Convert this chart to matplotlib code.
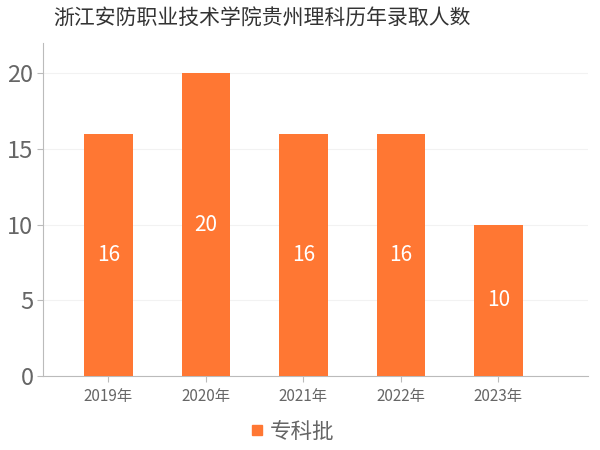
import matplotlib.pyplot as plt
from matplotlib.lines import Line2D

plt.rcParams['font.family'] = ['Noto Sans CJK SC', 'DejaVu Sans']

years = ["2019年", "2020年", "2021年", "2022年", "2023年"]
counts = [16, 20, 16, 16, 10]
series_name = "专科批"
title = "浙江安防职业技术学院贵州理科历年录取人数"

bar_color = "#FF7733"
text_gray = "#666666"

fig = plt.figure(figsize=(6, 4.5), dpi=100)
ax = fig.add_axes([0.072, 1 - 376 / 450, 0.908, (376 - 43) / 450])

x = list(range(len(years)))
bars = ax.bar(x, counts, width=0.5, color=bar_color, zorder=3)
for rect, v in zip(bars, counts):
    ax.text(rect.get_x() + rect.get_width() / 2, v / 2, str(v),
            ha="center", va="center", color="white", fontsize=15, zorder=4)

ax.set_xlim(-0.67, 4.92)
ax.set_ylim(0, 22)
ax.set_yticks([0, 5, 10, 15, 20])
ax.set_xticks(x)
ax.set_xticklabels(years, fontsize=11, color=text_gray)
ax.tick_params(axis="y", labelsize=17, colors=text_gray, length=4, color="#BBBBBB", pad=3)
ax.tick_params(axis="x", length=4, color="#BBBBBB", pad=5)
ax.grid(axis="y", color="#F2F2F2", linewidth=0.8, zorder=0)

for s in ["top", "right"]:
    ax.spines[s].set_visible(False)
for s in ["left", "bottom"]:
    ax.spines[s].set_color("#BBBBBB")

fig.text(0.437, 0.958, title, ha="center", va="center", fontsize=15, color="#333333")

handle = Line2D([], [], linestyle="none", marker="s", markersize=6.5,
                markerfacecolor=bar_color, markeredgecolor=bar_color, label=series_name)
leg = fig.legend(handles=[handle], loc="center", bbox_to_anchor=(0.487, 0.04),
                 frameon=False, fontsize=15.5, handlelength=0.6, handletextpad=0.3)
for t in leg.get_texts():
    t.set_color(text_gray)

fig.savefig("out.png", dpi=100)
